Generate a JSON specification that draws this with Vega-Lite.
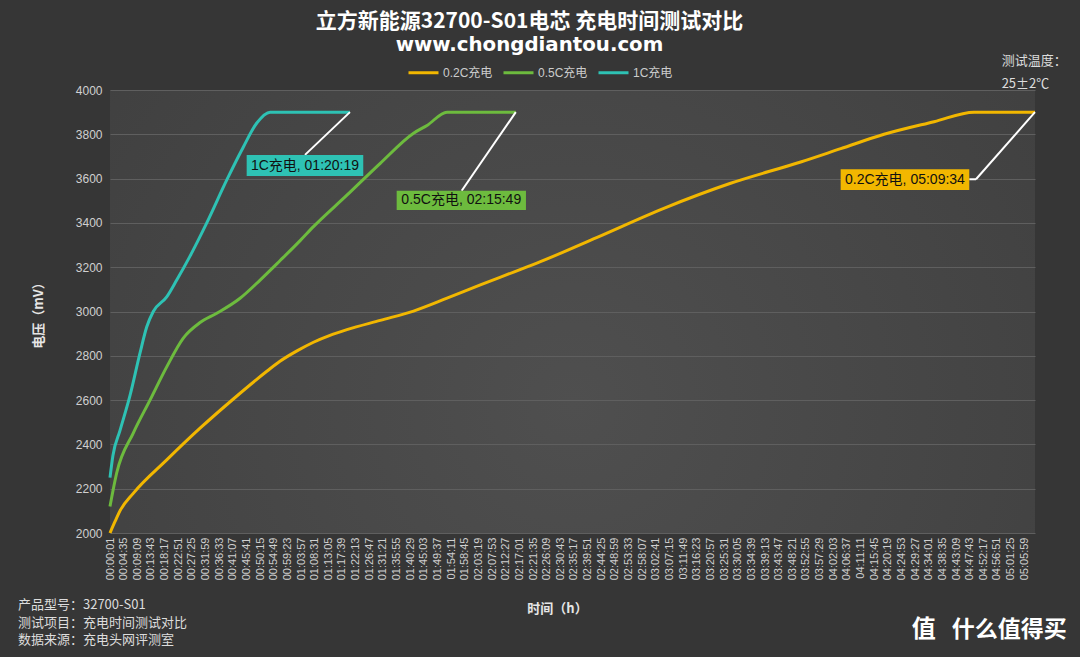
{
  "$schema": "https://vega.github.io/schema/vega-lite/v6.json",
  "width": 925,
  "height": 443,
  "autosize": {"type": "none"},
  "padding": {"left": 110, "top": 90, "right": 45, "bottom": 124},
  "background": "#363636",
  "title": {
    "text": "立方新能源32700-S01电芯 充电时间测试对比",
    "subtitle": "www.chongdiantou.com",
    "anchor": "middle",
    "dx": -43,
    "offset": 0,
    "font": "Noto Sans CJK SC",
    "fontSize": 21,
    "fontWeight": "bold",
    "color": "#ffffff",
    "subtitleFont": "DejaVu Sans",
    "subtitleFontSize": 19.8,
    "subtitleFontWeight": "bold",
    "subtitleColor": "#ffffff",
    "subtitlePadding": 3
  },
  "datasets": {
    "curves": [
      {"s": "0.2C充电", "t": 1, "v": 2000},
      {"s": "0.2C充电", "t": 100, "v": 2051},
      {"s": "0.2C充电", "t": 201, "v": 2100},
      {"s": "0.2C充电", "t": 468, "v": 2179},
      {"s": "0.2C充电", "t": 1140, "v": 2330},
      {"s": "0.2C充电", "t": 1809, "v": 2473},
      {"s": "0.2C充电", "t": 2478, "v": 2605},
      {"s": "0.2C充电", "t": 3150, "v": 2730},
      {"s": "0.2C充电", "t": 3413, "v": 2775},
      {"s": "0.2C充电", "t": 3755, "v": 2822},
      {"s": "0.2C充电", "t": 4076, "v": 2860},
      {"s": "0.2C充电", "t": 4418, "v": 2892},
      {"s": "0.2C充电", "t": 4759, "v": 2918},
      {"s": "0.2C充电", "t": 5427, "v": 2960},
      {"s": "0.2C充电", "t": 6096, "v": 3002},
      {"s": "0.2C充电", "t": 6768, "v": 3060},
      {"s": "0.2C充电", "t": 7437, "v": 3120},
      {"s": "0.2C充电", "t": 8106, "v": 3178},
      {"s": "0.2C充电", "t": 8643, "v": 3225},
      {"s": "0.2C充电", "t": 9783, "v": 3335},
      {"s": "0.2C充电", "t": 11121, "v": 3466},
      {"s": "0.2C充电", "t": 12462, "v": 3579},
      {"s": "0.2C充电", "t": 13869, "v": 3675},
      {"s": "0.2C充电", "t": 14673, "v": 3735},
      {"s": "0.2C充电", "t": 15543, "v": 3800},
      {"s": "0.2C充电", "t": 16548, "v": 3857},
      {"s": "0.2C充电", "t": 17352, "v": 3900},
      {"s": "0.2C充电", "t": 18574, "v": 3900},
      {"s": "0.5C充电", "t": 1, "v": 2120},
      {"s": "0.5C充电", "t": 135, "v": 2271},
      {"s": "0.5C充电", "t": 468, "v": 2451},
      {"s": "0.5C充电", "t": 804, "v": 2600},
      {"s": "0.5C充电", "t": 1140, "v": 2750},
      {"s": "0.5C充电", "t": 1473, "v": 2880},
      {"s": "0.5C充电", "t": 1809, "v": 2950},
      {"s": "0.5C充电", "t": 2145, "v": 2992},
      {"s": "0.5C充电", "t": 2613, "v": 3060},
      {"s": "0.5C充电", "t": 3015, "v": 3142},
      {"s": "0.5C充电", "t": 3417, "v": 3230},
      {"s": "0.5C充电", "t": 3819, "v": 3320},
      {"s": "0.5C充电", "t": 4086, "v": 3383},
      {"s": "0.5C充电", "t": 4758, "v": 3525},
      {"s": "0.5C充电", "t": 5427, "v": 3669},
      {"s": "0.5C充电", "t": 6096, "v": 3805},
      {"s": "0.5C充电", "t": 6366, "v": 3840},
      {"s": "0.5C充电", "t": 6768, "v": 3900},
      {"s": "0.5C充电", "t": 8149, "v": 3900},
      {"s": "1C充电", "t": 1, "v": 2250},
      {"s": "1C充电", "t": 60, "v": 2350},
      {"s": "1C充电", "t": 201, "v": 2462},
      {"s": "1C充电", "t": 402, "v": 2620},
      {"s": "1C充电", "t": 603, "v": 2812},
      {"s": "1C充电", "t": 738, "v": 2930},
      {"s": "1C充电", "t": 870, "v": 3000},
      {"s": "1C充电", "t": 1140, "v": 3066},
      {"s": "1C充电", "t": 1341, "v": 3142},
      {"s": "1C充电", "t": 1608, "v": 3250},
      {"s": "1C充电", "t": 1944, "v": 3400},
      {"s": "1C充电", "t": 2346, "v": 3594},
      {"s": "1C充电", "t": 2679, "v": 3743},
      {"s": "1C充电", "t": 2949, "v": 3851},
      {"s": "1C充电", "t": 3216, "v": 3900},
      {"s": "1C充电", "t": 4819, "v": 3900}
    ],
    "leaders": [
      {"t": 4819, "v": 3900, "t2": 3916, "v2": 3707},
      {"t": 8149, "v": 3900, "t2": 7062, "v2": 3545},
      {"t": 18574, "v": 3900, "t2": 17389, "v2": 3597},
      {"t": 17389, "v": 3597, "t2": 17254, "v2": 3597}
    ],
    "boxes": [
      {"s": "1C充电", "label": "1C充电, 01:20:19", "t": 2745, "t2": 5086, "v": 3707, "v2": 3612, "tc": 3916, "vc": 3659},
      {"s": "0.5C充电", "label": "0.5C充电, 02:15:49", "t": 5757, "t2": 8353, "v": 3545, "v2": 3458, "tc": 7054, "vc": 3502},
      {"s": "0.2C充电", "label": "0.2C充电, 05:09:34", "t": 14672, "t2": 17254, "v": 3642, "v2": 3549, "tc": 15963, "vc": 3595}
    ],
    "notes": [
      {"text": "产品型号：32700-S01", "t": -1847, "v": 1673, "size": 13},
      {"text": "测试项目：充电时间测试对比", "t": -1847, "v": 1594, "size": 13},
      {"text": "数据来源：充电头网评测室", "t": -1847, "v": 1515, "size": 13},
      {"text": "测试温度：", "t": 17904, "v": 4131, "size": 13},
      {"text": "25±2℃", "t": 17904, "v": 4027, "size": 13}
    ],
    "logo": [
      {"text": "值", "t": 16100, "v": 1562, "size": 24},
      {"text": "什么值得买", "t": 16900, "v": 1562, "size": 23}
    ]
  },
  "layer": [
    {
      "data": {"name": "curves"},
      "mark": {"type": "line", "strokeWidth": 3, "interpolate": "monotone"},
      "encoding": {
        "x": {
          "field": "t",
          "type": "quantitative",
          "title": "时间（h）",
          "scale": {"domain": [1, 18574], "nice": false, "zero": false},
          "axis": {
            "values": [1, 275, 549, 823, 1097, 1371, 1645, 1919, 2193, 2467, 2741, 3015, 3289, 3563, 3837, 4111, 4385, 4659, 4933, 5207, 5481, 5755, 6029, 6303, 6577, 6851, 7125, 7399, 7673, 7947, 8221, 8495, 8769, 9043, 9317, 9591, 9865, 10139, 10413, 10687, 10961, 11235, 11509, 11783, 12057, 12331, 12605, 12879, 13153, 13427, 13701, 13975, 14249, 14523, 14797, 15071, 15345, 15619, 15893, 16167, 16441, 16715, 16989, 17263, 17537, 17811, 18085, 18359],
            "labelExpr": "utcFormat(datum.value * 1000, '%H:%M:%S')",
            "labelOverlap": false,
            "tickCount": 200
          }
        },
        "y": {
          "field": "v",
          "type": "quantitative",
          "title": "电压（mV）",
          "scale": {"domain": [2000, 4000], "nice": false, "zero": false},
          "axis": {
            "values": [2000, 2200, 2400, 2600, 2800, 3000, 3200, 3400, 3600, 3800, 4000],
            "format": "d"
          }
        },
        "color": {
          "field": "s",
          "type": "nominal",
          "scale": {"domain": ["0.2C充电", "0.5C充电", "1C充电"], "range": ["#f2b700", "#6dbb3e", "#2ec2b4"]},
          "legend": {
            "orient": "none",
            "legendX": 297,
            "legendY": -34,
            "direction": "horizontal",
            "title": null,
            "symbolType": "stroke",
            "symbolSize": 900,
            "symbolStrokeWidth": 3,
            "labelColor": "#cccccc",
            "labelFont": "Liberation Sans, Noto Sans CJK SC",
            "labelFontSize": 12,
            "labelOffset": 3,
            "columnPadding": 4
          }
        }
      }
    },
    {
      "data": {"name": "leaders"},
      "mark": {"type": "rule", "color": "#ffffff", "strokeWidth": 2},
      "encoding": {
        "x": {"field": "t", "type": "quantitative", "title": "时间（h）"},
        "y": {"field": "v", "type": "quantitative", "title": "电压（mV）"},
        "x2": {"field": "t2"},
        "y2": {"field": "v2"}
      }
    },
    {
      "data": {"name": "boxes"},
      "mark": {"type": "rect"},
      "encoding": {
        "x": {"field": "t", "type": "quantitative", "title": "时间（h）"},
        "x2": {"field": "t2"},
        "y": {"field": "v", "type": "quantitative", "title": "电压（mV）"},
        "y2": {"field": "v2"},
        "color": {"field": "s", "type": "nominal", "legend": null}
      }
    },
    {
      "data": {"name": "boxes"},
      "mark": {"type": "text", "font": "Liberation Sans, Noto Sans CJK SC", "fontSize": 14, "color": "#111111", "align": "center", "baseline": "middle"},
      "encoding": {
        "x": {"field": "tc", "type": "quantitative", "title": "时间（h）"},
        "y": {"field": "vc", "type": "quantitative", "title": "电压（mV）"},
        "text": {"field": "label"}
      }
    },
    {
      "data": {"name": "notes"},
      "mark": {"type": "text", "font": "Noto Sans CJK SC", "color": "#dddddd", "align": "left", "baseline": "middle"},
      "encoding": {
        "x": {"field": "t", "type": "quantitative", "title": "时间（h）"},
        "y": {"field": "v", "type": "quantitative", "title": "电压（mV）"},
        "text": {"field": "text"},
        "size": {"field": "size", "type": "quantitative", "scale": null}
      }
    },
    {
      "data": {"name": "logo"},
      "mark": {"type": "text", "font": "Noto Sans CJK SC", "fontWeight": "bold", "color": "#ffffff", "align": "left", "baseline": "middle"},
      "encoding": {
        "x": {"field": "t", "type": "quantitative", "title": "时间（h）"},
        "y": {"field": "v", "type": "quantitative", "title": "电压（mV）"},
        "text": {"field": "text"},
        "size": {"field": "size", "type": "quantitative", "scale": null}
      }
    }
  ],
  "config": {
    "view": {
      "stroke": null,
      "fill": {
        "gradient": "radial",
        "x1": 0.5, "y1": 0.6, "r1": 0,
        "x2": 0.5, "y2": 0.6, "r2": 0.8,
        "stops": [
          {"offset": 0, "color": "#4f4f4f"},
          {"offset": 1, "color": "#3c3c3c"}
        ]
      }
    },
    "axisX": {
      "labelAngle": -90,
      "labelFontSize": 11,
      "labelFont": "Liberation Sans",
      "labelColor": "#d0d0d0",
      "labelPadding": 4,
      "labelOverlap": false,
      "labelFlush": false,
      "labelBound": false,
      "ticks": false,
      "domain": false,
      "grid": false,
      "titleX": 447,
      "titleY": 75,
      "titleFont": "Noto Sans CJK SC",
      "titleFontSize": 13,
      "titleFontWeight": "bold",
      "titleColor": "#e6e6e6",
      "titleBaseline": "middle",
      "titleAlign": "center"
    },
    "axisY": {
      "labelFontSize": 12,
      "labelFont": "Liberation Sans",
      "labelColor": "#d0d0d0",
      "labelPadding": 8,
      "ticks": false,
      "domain": false,
      "grid": true,
      "gridColor": "#5f5f5f",
      "gridWidth": 1,
      "titleX": -72,
      "titleY": 222,
      "titleAngle": -90,
      "titleFont": "Noto Sans CJK SC",
      "titleFontSize": 13,
      "titleFontWeight": "bold",
      "titleColor": "#e6e6e6",
      "titleAlign": "center",
      "titleBaseline": "middle"
    }
  }
}
